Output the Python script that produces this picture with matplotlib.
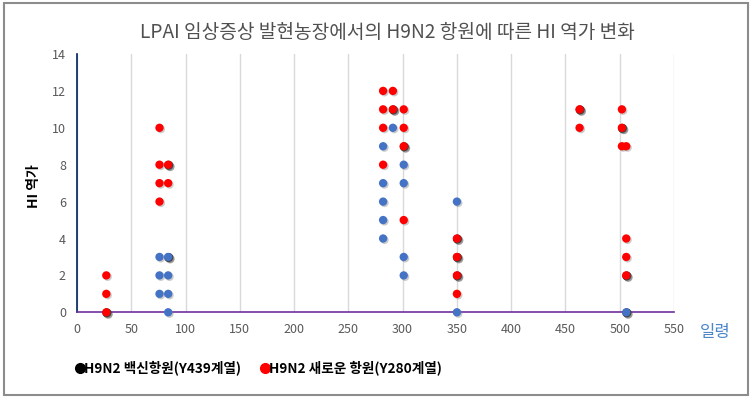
import matplotlib
matplotlib.use("Agg")
import matplotlib.pyplot as plt
from matplotlib.lines import Line2D
from matplotlib.patches import Rectangle
from matplotlib.transforms import offset_copy
import matplotlib.patheffects as pe

plt.rcParams['font.family'] = ['Noto Sans CJK KR', 'DejaVu Sans']

# Data (age in days, HI titer log2)
black_x = [27, 84, 84, 291, 301, 350, 350, 350, 463, 502, 506, 506]
black_y = [0, 8, 3, 11, 9, 4, 3, 2, 11, 10, 2, 0]

blue_x = [76, 76, 76, 84, 84, 84, 84,
          282, 282, 282, 282, 282, 291, 301, 301, 301, 301,
          350, 350, 506]
blue_y = [3, 2, 1, 3, 2, 1, 0,
          9, 7, 6, 5, 4, 10, 8, 7, 3, 2,
          6, 0, 0]

red_x = [27, 27, 27,
         76, 76, 76, 76, 84, 84,
         282, 291, 282, 291, 301, 282, 301, 301, 282, 301,
         350, 350, 350, 350,
         463, 463, 502, 502, 502, 506, 506, 506, 506]
red_y = [2, 1, 0,
         10, 8, 7, 6, 8, 7,
         12, 12, 11, 11, 11, 10, 10, 9, 8, 5,
         4, 3, 2, 1,
         11, 10, 11, 10, 9, 9, 4, 3, 2]

x_ticks = list(range(0, 551, 50))
y_ticks = list(range(0, 15, 2))

title = "LPAI 임상증상 발현농장에서의 H9N2 항원에 따른 HI 역가 변화"
label_black = "H9N2 백신항원(Y439계열)"
label_red = "H9N2 새로운 항원(Y280계열)"

fig = plt.figure(figsize=(7.52, 3.98), dpi=100)
fig.patches.append(Rectangle((0.005, 0.008), 0.99, 0.984, transform=fig.transFigure,
                             fill=False, edgecolor='#8c8c8c', linewidth=1.5))
ax = fig.add_axes([77 / 752, 1 - 312.3 / 398, (674 - 77) / 752, (312.3 - 54) / 398])

shadow = [pe.SimplePatchShadow(offset=(1, -1), shadow_rgbFace='#7f7f7f', alpha=0.4), pe.Normal()]
black_shadow = [pe.SimplePatchShadow(offset=(1, -1), shadow_rgbFace='#404040', alpha=0.5), pe.Normal()]

bt = offset_copy(ax.transData, fig=fig, x=0.4, y=-0.4, units='points')
ax.scatter(black_x, black_y, s=42, color='#1a1a1a', zorder=3, clip_on=False,
           path_effects=black_shadow, linewidths=0, transform=bt)
ax.scatter(blue_x, blue_y, s=36, color='#4472c4', zorder=4, clip_on=False, path_effects=shadow, linewidths=0)
ax.scatter(red_x, red_y, s=36, color='#ff0000', zorder=5, clip_on=False, path_effects=shadow, linewidths=0)

ax.set_xlim(0, 550)
ax.set_ylim(0, 14)
ax.set_xticks(x_ticks)
ax.set_yticks(y_ticks)
ax.xaxis.grid(True, color='#d9d9d9', linewidth=1)
ax.set_axisbelow(True)
for s in ['top', 'right']:
    ax.spines[s].set_visible(False)
ax.spines['left'].set_color('#002060')
ax.spines['bottom'].set_color('#7030a0')
ax.spines['left'].set_linewidth(1.2)
ax.spines['bottom'].set_linewidth(1.2)
ax.tick_params(length=0, labelsize=9, labelcolor='#595959', pad=8)

fig.text(387 / 752, 1 - 33 / 398, title, ha='center', va='center', fontsize=13.8,
         color='#505050', fontweight='normal')
fig.text(34 / 752, 1 - 186 / 398, "HI 역가", rotation=90, ha='center', va='center',
         fontsize=10, fontweight='bold', color='black')
fig.text(715 / 752, 1 - 333 / 398, "일령", ha='center', va='center', fontsize=12,
         color='#4a86c8')

handles = [Line2D([], [], marker='o', linestyle='none', color='black', markersize=7),
           Line2D([], [], marker='o', linestyle='none', color='#ff0000', markersize=7)]
leg = fig.legend(handles, [label_black, label_red], loc='center left',
                 bbox_to_anchor=(64 / 752, 1 - 368 / 398), ncol=2, frameon=False,
                 handlelength=0.5, handletextpad=0.05, columnspacing=1.5,
                 prop={'size': 9.8, 'weight': 'bold'})

fig.savefig('out.png', dpi=100)
